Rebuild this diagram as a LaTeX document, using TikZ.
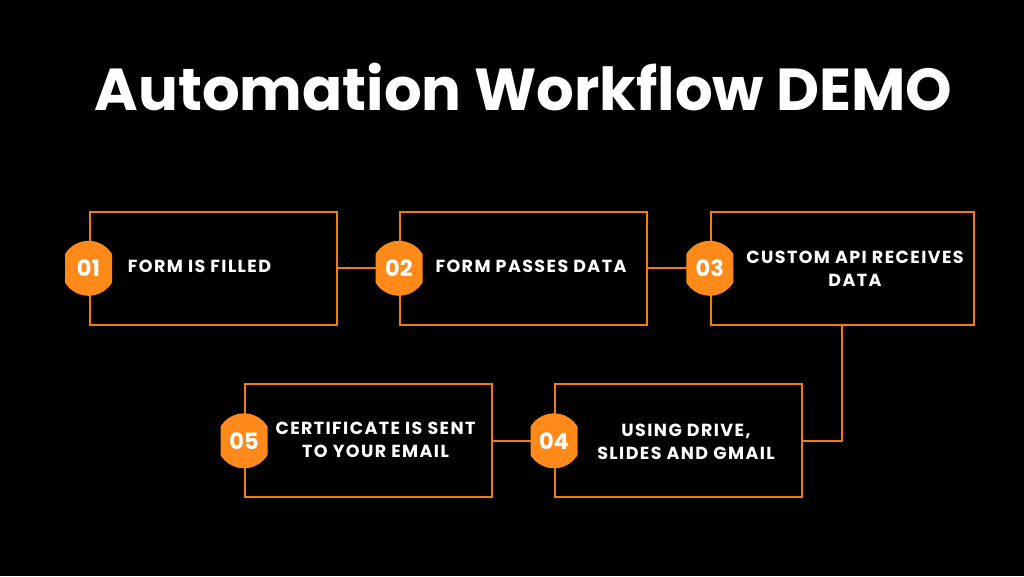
\documentclass[tikz,border=0pt]{standalone}
\usepackage{fontspec}
\setmainfont{Poppins}
\usepackage{tikz}
\usetikzlibrary{positioning,calc}
\definecolor{lineorange}{HTML}{F27D0C}
\definecolor{badgeorange}{HTML}{FF8A1A}

\begin{document}
\begin{tikzpicture}[x=1pt,y=-1pt,
  stepbox/.style={draw=lineorange,line width=2pt,minimum width=247pt,minimum height=113pt,inner sep=0pt},
  badge/.style={minimum width=47pt,minimum height=55pt,inner sep=0pt,text=white,font=\bfseries\fontsize{22.5}{24}\selectfont,
    path picture={\fill[badgeorange] (path picture bounding box.center) circle (27.5pt);}},
  label/.style={text=white,align=center,font=\bfseries\fontsize{17.5}{23}\selectfont\addfontfeature{LetterSpace=8}},
  link/.style={draw=lineorange,line width=2pt}]
\fill[black] (0,0) rectangle (1024,576);
\useasboundingbox (0,0) rectangle (1024,576);
\node[text=white,anchor=base,font=\bfseries\fontsize{59.2}{60}\selectfont] (title) at (523.5,110){Automation Workflow DEMO};
% boxes
\node[stepbox] (box1) at (213,268.3){};
\node[stepbox] (box2) at (523.5,268.3){};
\node[stepbox,minimum width=263pt] (box3) at (842.3,268.3){};
\node[stepbox] (box4) at (678.5,440.8){};
\node[stepbox] (box5) at (368.5,440.8){};
% connectors
\draw[link] (box1.east)--(box2.west);
\draw[link] (box2.east)--(box3.west);
\draw[link] (box3.south)|-(box4.east);
\draw[link] (box5.east)--(box4.west);
% badges
\node[badge] (b1) at (box1.west){01};
\node[badge] (b2) at (box2.west){02};
\node[badge] (b3) at (box3.west){03};
\node[badge] (b4) at (box4.west){04};
\node[badge] (b5) at (box5.west){05};
% texts
\node[label] (t1) at (199.5,266){FORM IS FILLED};
\node[label] (t2) at (531,266){FORM PASSES DATA};
\node[label] (t3) at (855,269){CUSTOM API RECEIVES\\DATA};
\node[label] (t4) at (686,442){USING DRIVE,\\SLIDES AND GMAIL};
\node[label] (t5) at (375.5,440){CERTIFICATE IS SENT\\TO YOUR EMAIL};
\end{tikzpicture}
\end{document}
